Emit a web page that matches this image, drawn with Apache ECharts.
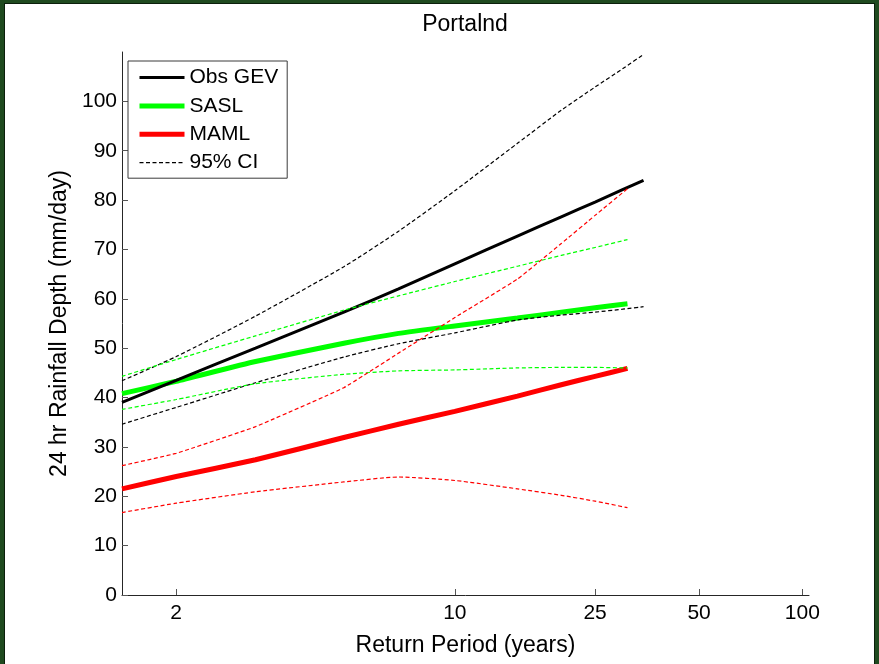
<!DOCTYPE html>
<html>
<head>
<meta charset="utf-8">
<script src="https://cdn.jsdelivr.net/npm/echarts@6/dist/echarts.min.js"></script>
<style>
  html, body { margin: 0; padding: 0; width: 879px; height: 664px; background: #1f4a1f; overflow: hidden; }
  #chart { position: absolute; left: 5px; top: 4px; width: 869px; height: 660px; background: #fff; box-shadow: 0 0 0 1px #0b1f0b; }
</style>
</head>
<body>
<div id="chart"></div>
<script>
// Return periods (years) at which each curve is evaluated
const periodsObs = [1.582, 2, 3, 5, 7, 10, 15, 20, 25, 30, 34.5];
const periodsModel = [1.582, 2, 3, 5, 7, 10, 15, 20, 25, 31];

// 24 hr rainfall depth (mm/day), observed GEV fit and its 95% CI
const obsGev   = [39.0, 43.5, 50.0, 57.3, 62.0, 67.1, 72.7, 76.6, 79.6, 82.1, 84.0];
const obsUpper = [43.4, 48.3, 56.5, 66.5, 73.7, 81.9, 91.5, 98.2, 102.9, 106.6, 109.5];
const obsLower = [34.6, 38.0, 43.0, 48.2, 50.9, 53.1, 55.7, 56.7, 57.3, 57.9, 58.4];

// SASL estimate and its 95% CI
const sasl      = [40.8, 43.3, 47.3, 51.0, 53.0, 54.5, 56.1, 57.3, 58.2, 59.0];
const saslUpper = [44.3, 47.7, 52.5, 57.7, 60.6, 63.5, 66.6, 68.8, 70.4, 72.0];
const saslLower = [37.6, 39.6, 42.8, 44.7, 45.4, 45.6, 46.0, 46.1, 46.1, 46.0];

// MAML estimate and its 95% CI
const maml      = [21.5, 24.0, 27.4, 31.9, 34.6, 37.2, 40.3, 42.6, 44.3, 45.9];
const mamlUpper = [26.2, 28.7, 34.1, 42.0, 49.0, 56.2, 64.0, 71.2, 76.9, 82.3];
const mamlLower = [16.7, 18.6, 20.9, 22.9, 23.9, 23.2, 21.5, 20.2, 19.0, 17.7];

// Axis ticks
const periodTicks = [2, 10, 25, 50, 100];
const depthTicks = [0, 10, 20, 30, 40, 50, 60, 70, 80, 90, 100];

// Gumbel reduced variate: the x axis is linear in this quantity
function gumbel(T) { return -Math.log(-Math.log(1 - 1 / T)); }
function toPoints(periods, depths) { return periods.map((T, i) => [gumbel(T), depths[i]]); }

const FONT = "'Liberation Sans', Arial, Helvetica, sans-serif";
const GREEN = '#00ff00', RED = '#ff0000', BLACK = '#000000';
const DASH = [4, 2.5];

function solid(name, periods, depths, color, width) {
  return {
    name, type: 'line', data: toPoints(periods, depths), symbol: 'none', smooth: 0.15,
    lineStyle: { color, width, cap: 'butt' }, itemStyle: { color },
    emphasis: { disabled: true }, z: 3
  };
}
function dashed(name, periods, depths, color, smooth) {
  return {
    name, type: 'line', data: toPoints(periods, depths), symbol: 'none', smooth: smooth,
    lineStyle: { color, width: 1.2, type: DASH }, itemStyle: { color },
    emphasis: { disabled: true }, z: 4
  };
}

const tickXs = periodTicks.map(gumbel);
const noMarker = { opacity: 0 };

const chart = echarts.init(document.getElementById('chart'), null, { renderer: 'canvas' });
chart.setOption({
  animation: false,
  backgroundColor: '#ffffff',
  graphic: [{
    type: 'text', x: 460, y: 21,
    style: { text: 'Portalnd', font: '23px ' + FONT, fill: '#000', textAlign: 'center', textVerticalAlign: 'middle' }
  }],
  grid: { left: 117, top: 48, width: 687, height: 543, containLabel: false },
  legend: {
    left: 123, top: 57, orient: 'vertical',
    itemWidth: 45, itemHeight: 14, itemGap: 7.4,
    padding: [6, 9, 5, 9],
    borderColor: '#3a3a3a', borderWidth: 1, backgroundColor: '#fff',
    selectedMode: false,
    textStyle: { fontFamily: FONT, fontSize: 21, color: '#000' },
    data: [
      { name: 'Obs GEV', itemStyle: noMarker, lineStyle: { width: 3, color: BLACK, type: 'solid' } },
      { name: 'SASL', itemStyle: noMarker, lineStyle: { width: 5, color: GREEN, type: 'solid' } },
      { name: 'MAML', itemStyle: noMarker, lineStyle: { width: 5, color: RED, type: 'solid' } },
      { name: '95% CI', itemStyle: noMarker, lineStyle: { width: 1.2, color: BLACK, type: DASH } }
    ]
  },
  xAxis: {
    type: 'value', min: 0, max: 4.645,
    name: 'Return Period (years)', nameLocation: 'middle', nameGap: 39,
    nameTextStyle: { fontFamily: FONT, fontSize: 23, color: '#000' },
    axisLine: { show: true, lineStyle: { color: '#262626', width: 1 } },
    axisTick: { show: true, inside: true, length: 6, customValues: tickXs, lineStyle: { color: '#555' } },
    axisLabel: {
      show: true, customValues: tickXs, margin: 8,
      fontFamily: FONT, fontSize: 21, color: '#000',
      formatter: function (v) {
        for (let i = 0; i < periodTicks.length; i++) {
          if (Math.abs(tickXs[i] - v) < 1e-6) return String(periodTicks[i]);
        }
        return '';
      }
    },
    splitLine: { show: false }
  },
  yAxis: {
    type: 'value', min: 0, max: 110, interval: 10,
    name: '24 hr Rainfall Depth (mm/day)', nameLocation: 'middle', nameGap: 47,
    nameTextStyle: { fontFamily: FONT, fontSize: 23, color: '#000' },
    axisLine: { show: true, lineStyle: { color: '#262626', width: 1 } },
    axisTick: { show: true, inside: true, length: 6, customValues: depthTicks, lineStyle: { color: '#555' } },
    axisLabel: { show: true, customValues: depthTicks, margin: 5, fontFamily: FONT, fontSize: 21, color: '#000' },
    splitLine: { show: false }
  },
  series: [
    solid('SASL', periodsModel, sasl, GREEN, 5),
    solid('MAML', periodsModel, maml, RED, 5),
    solid('Obs GEV', periodsObs, obsGev, BLACK, 3),
    dashed('95% CI', periodsObs, obsUpper, BLACK, 0.2),
    dashed('95% CI', periodsObs, obsLower, BLACK, 0.2),
    dashed('SASL upper CI', periodsModel, saslUpper, GREEN, 0.2),
    dashed('SASL lower CI', periodsModel, saslLower, GREEN, 0.2),
    dashed('MAML upper CI', periodsModel, mamlUpper, RED, 0.1),
    dashed('MAML lower CI', periodsModel, mamlLower, RED, 0.2)
  ]
});
</script>
</body>
</html>
